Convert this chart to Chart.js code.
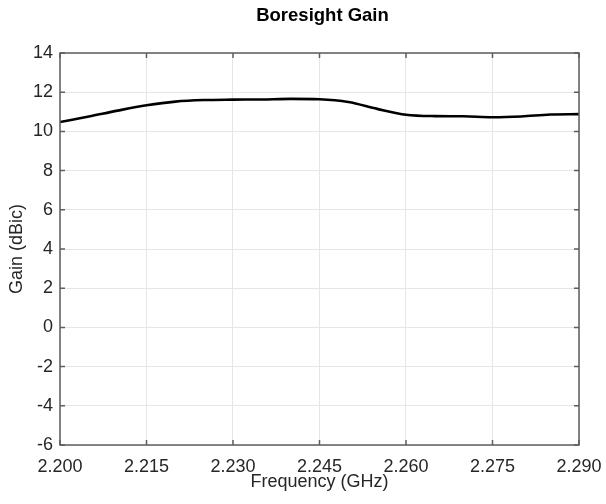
<!DOCTYPE html>
<html>
<head>
<meta charset="utf-8">
<script src="https://cdn.jsdelivr.net/npm/chart.js@4/dist/chart.umd.min.js"></script>
<style>
  html, body { margin: 0; padding: 0; background: #fff; }
  #wrap { width: 606px; height: 504px; position: relative; }
</style>
</head>
<body>
<div id="wrap"><canvas id="c" width="606" height="504"></canvas></div>
<script>
const chartTitle = 'Boresight Gain';
const xAxisLabel = 'Frequency (GHz)';
const yAxisLabel = 'Gain (dBic)';
const frequencies = [2.200, 2.205, 2.210, 2.215, 2.220, 2.225, 2.230, 2.235, 2.240, 2.245,
                     2.250, 2.255, 2.260, 2.265, 2.270, 2.275, 2.280, 2.285, 2.290];
const gain =        [10.48, 10.76, 11.06, 11.33, 11.52, 11.60, 11.62, 11.63, 11.66, 11.64,
                     11.50, 11.15, 10.85, 10.78, 10.77, 10.72, 10.76, 10.86, 10.88];
const xTicks = [2.200, 2.215, 2.230, 2.245, 2.260, 2.275, 2.290];
const yTicks = [-6, -4, -2, 0, 2, 4, 6, 8, 10, 12, 14];

const FONT = "'Liberation Sans', Arial, Helvetica, sans-serif";
const AXIS_COLOR = '#5e5e5e';
const TEXT_COLOR = '#262626';

const boxPlugin = {
  id: 'boxTicks',
  afterLayout(chart) {
    const t = chart.titleBlock;
    if (t) {
      const cx = (chart.chartArea.left + chart.chartArea.right) / 2 + 3;
      const half = Math.min(cx, chart.width - cx);
      t.left = cx - half;
      t.right = cx + half;
    }
  },
  afterDatasetsDraw(chart) {
    const {ctx, chartArea: a, scales: {x, y}} = chart;
    ctx.save();
    ctx.strokeStyle = AXIS_COLOR;
    ctx.lineWidth = 1.5;
    const L = 5;
    ctx.beginPath();
    xTicks.forEach(v => {
      const px = x.getPixelForValue(v);
      ctx.moveTo(px, a.bottom); ctx.lineTo(px, a.bottom - L);
      ctx.moveTo(px, a.top); ctx.lineTo(px, a.top + L);
    });
    yTicks.forEach(v => {
      const py = y.getPixelForValue(v);
      ctx.moveTo(a.left, py); ctx.lineTo(a.left + L, py);
      ctx.moveTo(a.right, py); ctx.lineTo(a.right - L, py);
    });
    ctx.stroke();
    ctx.strokeRect(a.left, a.top, a.right - a.left, a.bottom - a.top);
    ctx.restore();
  }
};

new Chart(document.getElementById('c'), {
  type: 'line',
  data: {
    datasets: [{
      data: frequencies.map((f, i) => ({x: f, y: gain[i]})),
      borderColor: '#000',
      borderWidth: 2.6,
      pointRadius: 0,
      fill: false,
      tension: 0.4,
      cubicInterpolationMode: 'monotone'
    }]
  },
  options: {
    responsive: false,
    animation: false,
    devicePixelRatio: 1,
    layout: { padding: { left: 0, right: 27, top: 0, bottom: 0 } },
    plugins: {
      legend: { display: false },
      tooltip: { enabled: false },
      title: {
        display: true,
        text: chartTitle,
        color: '#000',
        font: { family: FONT, size: 18.5, weight: 'bold' },
        padding: { top: 5, bottom: 25.8 }
      }
    },
    scales: {
      x: {
        type: 'linear',
        min: 2.200,
        max: 2.290,
        afterBuildTicks: s => { s.ticks = xTicks.map(v => ({value: v})); },
        afterFit: s => { s.height = 59; s.paddingLeft = 0; s.paddingRight = 0; },
        border: { display: false },
        grid: { color: '#e6e6e6', lineWidth: 1, drawTicks: false },
        ticks: {
          color: TEXT_COLOR,
          font: { family: FONT, size: 18 },
          padding: 11,
          maxRotation: 0,
          autoSkip: false,
          callback: v => Number(v).toFixed(3)
        },
        title: {
          display: true,
          text: xAxisLabel,
          color: TEXT_COLOR,
          font: { family: FONT, size: 18 },
          padding: { top: 0, bottom: 11 }
        }
      },
      y: {
        type: 'linear',
        min: -6,
        max: 14,
        afterBuildTicks: s => { s.ticks = yTicks.map(v => ({value: v})); },
        afterFit: s => { s.width = 60; s.paddingTop = 0; s.paddingBottom = 0; },
        border: { display: false },
        grid: { color: '#e6e6e6', lineWidth: 1, drawTicks: false },
        ticks: {
          color: TEXT_COLOR,
          font: { family: FONT, size: 18 },
          padding: 7,
          autoSkip: false
        },
        title: {
          display: true,
          text: yAxisLabel,
          color: TEXT_COLOR,
          font: { family: FONT, size: 18 },
          padding: { top: 6, bottom: 0 }
        }
      }
    }
  },
  plugins: [boxPlugin]
});
</script>
</body>
</html>
